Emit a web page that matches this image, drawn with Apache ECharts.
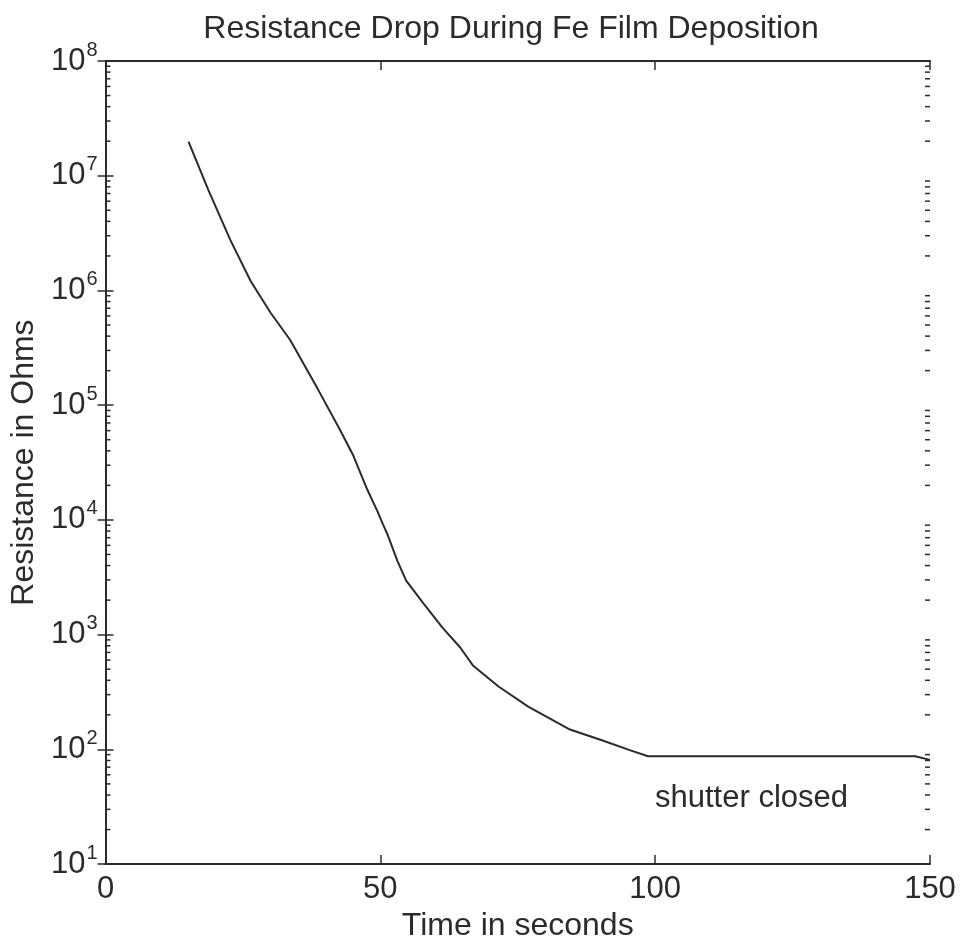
<!DOCTYPE html>
<html>
<head>
<meta charset="utf-8">
<title>Resistance Drop During Fe Film Deposition</title>
<script src="https://cdn.jsdelivr.net/npm/echarts@6/dist/echarts.min.js"></script>
<style>
  html, body { margin: 0; padding: 0; background: #fff; }
  #chart { width: 960px; height: 947px; }
</style>
</head>
<body>
<div id="chart"></div>
<script>
// Film resistance measured during Fe deposition (time in s, resistance in ohms)
const timeSeconds = [15.1, 18.7, 22.7, 26.4, 30.0, 33.6, 38.7, 42.7, 45.1, 47.6, 49.5, 50.5, 51.3,
  53.1, 54.7, 57.8, 61.3, 64.5, 66.9, 71.5, 76.9, 84.5, 90.3, 95.5, 98.7, 147.3, 150];
const resistanceOhms = [1.98e7, 7.53e6, 2.76e6, 1.21e6, 6.43e5, 3.70e5, 1.36e5, 6.04e4, 3.62e4,
  1.85e4, 1.18e4, 9.1e3, 7.48e3, 4.40e3, 2.96e3, 1.88e3, 1.15e3, 776, 535, 353, 236, 149, 120, 98, 87, 87, 81];

const xTicks = [0, 50, 100, 150];
const yDecades = [1, 2, 3, 4, 5, 6, 7, 8];
const titleText = 'Resistance Drop During Fe Film Deposition';
const xName = 'Time in seconds';
const yName = 'Resistance in Ohms';
const noteText = 'shutter closed';

// minor log ticks 2..9 within each decade
const minorTickValues = [];
for (let k = 1; k < 8; k++) {
  for (let m = 2; m <= 9; m++) minorTickValues.push(m * Math.pow(10, k));
}

const FONT = '"Liberation Sans", Arial, Helvetica, sans-serif';
const INK = '#2b2b2b';

const chart = echarts.init(document.getElementById('chart'));

const axisCommon = {
  axisLine: { show: true, lineStyle: { color: INK, width: 2 } },
  splitLine: { show: false }
};

const option = {
  animation: false,
  backgroundColor: '#fff',
  grid: { left: 105, right: 30, top: 61, bottom: 68, containLabel: false },
  graphic: [
    {
      type: 'text', x: 511, y: 29,
      style: { text: titleText, font: '32px ' + FONT, fill: INK, align: 'center', verticalAlign: 'middle' }
    },
    {
      type: 'text', x: 655, y: 798,
      style: { text: noteText, font: '31px ' + FONT, fill: INK, align: 'left', verticalAlign: 'middle' }
    }
  ],
  xAxis: [
    Object.assign({}, axisCommon, {
      type: 'value', min: xTicks[0], max: xTicks[xTicks.length - 1], interval: 50,
      position: 'bottom',
      name: xName, nameLocation: 'middle', nameGap: 27,
      nameTextStyle: { fontSize: 32, fontFamily: FONT, color: INK },
      axisTick: { show: true, inside: true, length: 9, lineStyle: { color: INK, width: 1.5 } },
      axisLabel: { fontSize: 31, fontFamily: FONT, color: INK, margin: 10 }
    }),
    Object.assign({}, axisCommon, {
      type: 'value', min: xTicks[0], max: xTicks[xTicks.length - 1], interval: 50,
      position: 'top',
      axisTick: { show: true, inside: true, length: 9, lineStyle: { color: INK, width: 1.5 } },
      axisLabel: { show: false }
    })
  ],
  yAxis: [
    Object.assign({}, axisCommon, {
      type: 'log', logBase: 10,
      min: Math.pow(10, yDecades[0]), max: Math.pow(10, yDecades[yDecades.length - 1]),
      position: 'left',
      name: yName, nameLocation: 'middle', nameGap: 62, nameRotate: 90,
      nameTextStyle: { fontSize: 32, fontFamily: FONT, color: INK },
      axisTick: { show: true, inside: true, length: 8, lineStyle: { color: INK, width: 1.5 } },
      axisLabel: {
        margin: 8,
        formatter: function (v) {
          return '{b|10}{s|' + Math.round(Math.log10(v)) + '}';
        },
        rich: {
          b: { fontSize: 31, fontFamily: FONT, color: INK },
          s: { fontSize: 20, fontFamily: FONT, color: INK, padding: [0, 0, 22, 1] }
        }
      }
    }),
    Object.assign({}, axisCommon, {
      type: 'log', logBase: 10,
      min: Math.pow(10, yDecades[0]), max: Math.pow(10, yDecades[yDecades.length - 1]),
      position: 'right',
      axisTick: { show: true, inside: true, length: 8, lineStyle: { color: INK, width: 1.5 } },
      axisLabel: { show: false }
    })
  ],
  series: [
    {
      type: 'line',
      xAxisIndex: 0, yAxisIndex: 0,
      data: timeSeconds.map((t, i) => [t, resistanceOhms[i]]),
      showSymbol: false,
      smooth: false,
      lineStyle: { color: INK, width: 2 },
      z: 5
    },
    {
      // minor ticks on the left and right frame edges
      type: 'custom',
      xAxisIndex: 0, yAxisIndex: 0,
      data: minorTickValues.map(v => [0, v]),
      clip: false,
      silent: true,
      renderItem: function (params, api) {
        const v = api.value(1);
        const pl = api.coord([xTicks[0], v]);
        const pr = api.coord([xTicks[xTicks.length - 1], v]);
        const st = { stroke: INK, lineWidth: 1.5 };
        return {
          type: 'group',
          children: [
            { type: 'line', shape: { x1: pl[0], y1: pl[1], x2: pl[0] + 5, y2: pl[1] }, style: st },
            { type: 'line', shape: { x1: pr[0], y1: pr[1], x2: pr[0] - 5, y2: pr[1] }, style: st }
          ]
        };
      }
    }
  ]
};

chart.setOption(option);
</script>
</body>
</html>
